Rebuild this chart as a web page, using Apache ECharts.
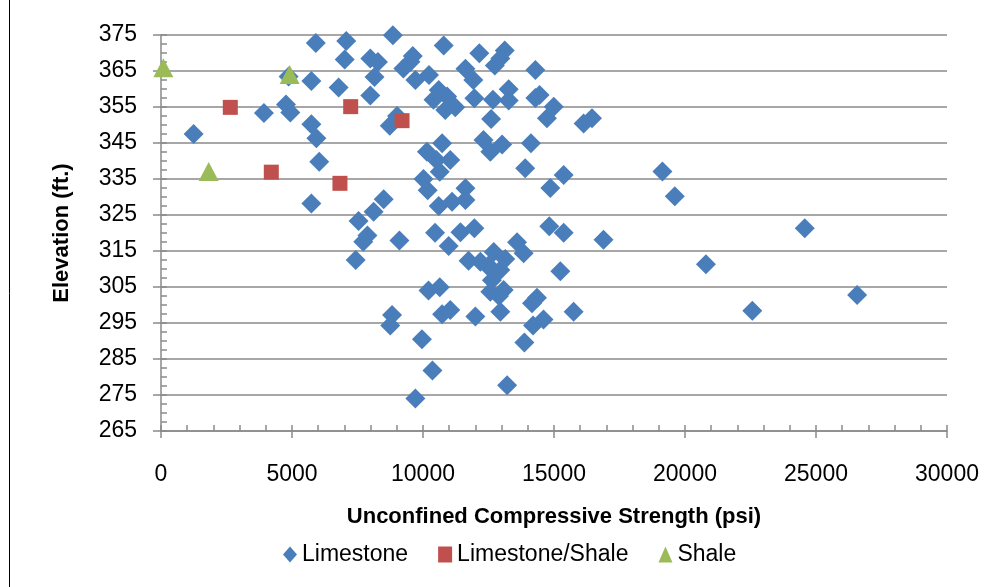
<!DOCTYPE html>
<html><head><meta charset="utf-8">
<script src="https://cdn.jsdelivr.net/npm/echarts@6/dist/echarts.min.js"></script>
<style>html,body{margin:0;padding:0;background:#fff}#c{width:999px;height:587px}</style>
</head><body><div id="c"></div>
<script>
const xMin = 0, xMax = 30000, xStep = 5000, xMinorStep = 1000;
const yMin = 265, yMax = 375, yStep = 10, yMinorStep = 2.5;
const seriesNames = ['Limestone', 'Limestone/Shale', 'Shale'];
const limestone = [
[1245,347.5],[3930,353.3],[4770,355.7],[4935,353.5],[4870,363.5],[5740,350.2],[5930,346.3],[6040,339.8],[5740,328.2],[5910,372.8],
[5740,362.2],[7070,373.3],[7010,368.2],[6780,360.4],[7540,323.3],[7990,368.5],[8280,367.5],[8150,363.3],[7990,358.2],[8850,374.9],
[9010,352.5],[8730,349.8],[8500,329.4],[8115,325.9],[7880,319.3],[7720,317.6],[9100,317.9],[7430,312.5],[8820,297.2],[8750,294.3],
[9710,274],[9960,290.5],[9610,369.2],[9520,367.6],[9250,365.7],[9710,362.5],[10230,363.9],[10790,372.1],[12150,369.9],[13120,370.7],
[12950,368.5],[12740,366.5],[11620,365.6],[11920,362.5],[14290,365.3],[10600,359.7],[10920,357.9],[10400,357],[10850,354.2],[11230,354.9],
[11960,357.4],[12670,357],[13270,359.9],[13270,356.8],[14290,357.5],[14450,358.3],[14990,355.1],[14730,351.9],[12600,351.7],[16450,351.9],
[16130,350.4],[10730,344.9],[10150,342.6],[10510,340.3],[11040,340.3],[10640,337],[12310,345.8],[12570,342.6],[13020,344.6],[14120,344.9],
[13900,338],[15370,336.1],[14860,332.5],[19140,337.1],[19610,330.2],[10020,335],[10180,331.9],[11620,332.4],[10600,327.5],[11110,328.7],
[11620,329.2],[10460,320.1],[11430,320.2],[11960,321.3],[10980,316.4],[14820,321.9],[15370,320.1],[16890,318.1],[13590,317.4],[13840,314.4],
[12700,314.7],[13140,312.8],[11740,312.3],[12190,312],[12500,311],[12950,309.7],[15240,309.4],[12630,306.9],[13080,304.2],[12570,303.7],
[10210,304],[10640,304.9],[12950,298.1],[11040,298.6],[10730,297.4],[12000,296.8],[14350,302],[14160,300.5],[14600,296],[14200,294.3],
[15750,298.1],[13870,289.6],[10360,281.8],[13210,277.7],[20800,311.3],[22570,298.4],[24570,321.3],[26570,302.8],[12550,310.2],[12900,302.5]
];
const limestoneShale = [[2645,354.9],[4210,336.9],[6830,333.8],[7240,355.1],[9200,351.2]];
const shale = [[90,365.9],[1820,337.1],[4910,364.0]];

const FONT = 'Liberation Sans';
const AX = '#8a8a8a';
const chart = echarts.init(document.getElementById('c'));
chart.setOption({
  animation: false,
  backgroundColor: '#fff',
  grid: { left: 161, right: 52, top: 35, bottom: 156, containLabel: false },
  xAxis: [{
    type: 'value', min: xMin, max: xMax, interval: xStep, position: 'bottom',
    name: 'Unconfined Compressive Strength (psi)', nameLocation: 'middle', nameGap: 75,
    nameTextStyle: { fontFamily: FONT, fontSize: 22, fontWeight: 'bold', color: '#000' },
    axisLine: { show: true, lineStyle: { color: AX, width: 1.5 } },
    axisTick: { show: true, inside: false, length: 7, lineStyle: { color: AX, width: 1.5 } },
    axisLabel: { margin: 32, fontFamily: FONT, fontSize: 23, color: '#000', showMinLabel: true, showMaxLabel: true,
      formatter: v => String(v) },
    splitLine: { show: false }
  }, {
    type: 'value', min: xMin, max: xMax, interval: xMinorStep, position: 'bottom',
    axisLine: { show: false },
    axisTick: { show: true, inside: true, length: 6, interval: 0, lineStyle: { color: AX, width: 1.5 } },
    axisLabel: { show: false }, splitLine: { show: false }
  }],
  yAxis: [{
    type: 'value', min: yMin, max: yMax, interval: yStep, position: 'left',
    name: 'Elevation (ft.)', nameLocation: 'middle', nameGap: 88, nameRotate: 90,
    nameTextStyle: { fontFamily: FONT, fontSize: 22, fontWeight: 'bold', color: '#000' },
    axisLine: { show: true, lineStyle: { color: AX, width: 1.5 } },
    axisTick: { show: true, inside: false, length: 8, lineStyle: { color: AX, width: 1.5 } },
    axisLabel: { margin: 24, fontFamily: FONT, fontSize: 23, color: '#000', showMinLabel: true, showMaxLabel: true,
      formatter: v => String(v) },
    splitLine: { show: true, lineStyle: { color: AX, width: 1.5 } }
  }, {
    type: 'value', min: yMin, max: yMax, interval: yMinorStep, position: 'left',
    axisLine: { show: false },
    axisTick: { show: true, inside: true, length: 6, interval: 0, lineStyle: { color: AX, width: 1.5 } },
    axisLabel: { show: false }, splitLine: { show: false }
  }],
  legend: {
    left: 278, top: 538, itemWidth: 14, itemHeight: 16, itemGap: 30,
    textStyle: { fontFamily: FONT, fontSize: 23, color: '#000' },
    data: [
      { name: seriesNames[0], icon: 'diamond' },
      { name: seriesNames[1], icon: 'rect' },
      { name: seriesNames[2], icon: 'triangle' }
    ]
  },
  graphic: [{ type: 'line', shape: { x1: 9.5, y1: 0, x2: 9.5, y2: 587 }, style: { stroke: '#000', lineWidth: 1 } }],
  series: [
    { name: seriesNames[0], type: 'scatter', xAxisIndex: 0, yAxisIndex: 0, symbol: 'diamond', symbolSize: 20,
      itemStyle: { color: '#4a7ebb', opacity: 1 }, data: limestone },
    { name: seriesNames[1], type: 'scatter', xAxisIndex: 0, yAxisIndex: 0, symbol: 'rect', symbolSize: 15,
      itemStyle: { color: '#c0504d', opacity: 1 }, data: limestoneShale },
    { name: seriesNames[2], type: 'scatter', xAxisIndex: 0, yAxisIndex: 0, symbol: 'triangle', symbolSize: [20, 19],
      itemStyle: { color: '#9bbb59', opacity: 1 }, data: shale }
  ]
});
</script></body></html>
